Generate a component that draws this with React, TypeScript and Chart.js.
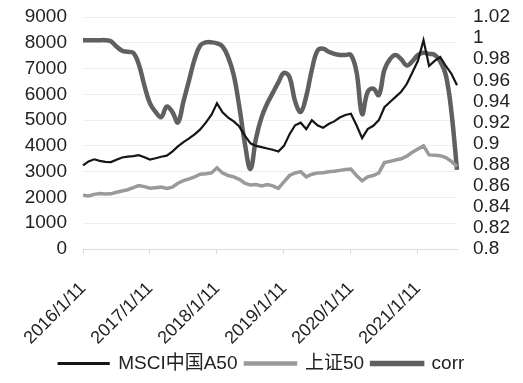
import { useEffect, useRef } from "react";
import { Chart, registerables } from "chart.js";
Chart.register(...registerables);

const FONT = "'Liberation Sans', 'Noto Sans CJK SC', Arial, sans-serif";

// monthly categories 2016/1/11 .. 2021/8/11
const categories: string[] = [];
for (let i = 0; i < 68; i++) {
  categories.push(`${2016 + Math.floor(i / 12)}/${(i % 12) + 1}/11`);
}

const msciA50 = [
  3240, 3400, 3480, 3420, 3380, 3370, 3460, 3550, 3580, 3600, 3640, 3560,
  3470, 3520, 3580, 3620, 3780, 3980, 4150, 4290, 4450, 4640, 4900, 5200,
  5650, 5300, 5100, 4950, 4750, 4400, 4100, 4000, 3950, 3900, 3850, 3780,
  4000, 4450, 4800, 4900, 4650, 5000, 4800, 4700, 4850, 4950, 5100, 5200,
  5250, 4800, 4300, 4650, 4780, 5000, 5500, 5700, 5900, 6100, 6400, 6850,
  7300, 8100, 7100, 7300, 7450, 7100, 6800, 6350,
];

const sz50 = [
  2090, 2060, 2120, 2150, 2130, 2140, 2200, 2250, 2300, 2380, 2460, 2420,
  2360, 2380, 2400, 2350, 2400, 2550, 2650, 2720, 2800, 2900, 2920, 2950,
  3150, 2950, 2850, 2800, 2700, 2550, 2480, 2500, 2450, 2500, 2450, 2350,
  2600, 2850, 2950, 3000, 2800, 2900, 2950, 2960, 3000, 3020, 3050, 3080,
  3100, 2850, 2650, 2800, 2850, 2950, 3350, 3400, 3450, 3500, 3600, 3750,
  3880, 4000, 3650, 3640, 3620, 3550, 3400, 3200,
];

const corr = [
  0.998, 0.998, 0.998, 0.998, 0.998, 0.997, 0.992, 0.988, 0.987, 0.986, 0.975, 0.955,
  0.938, 0.93, 0.925, 0.935, 0.93, 0.92, 0.94, 0.96, 0.98, 0.993, 0.996, 0.996,
  0.995, 0.992, 0.982, 0.965, 0.935, 0.9, 0.876, 0.905, 0.925, 0.938, 0.948, 0.958,
  0.967, 0.963, 0.94, 0.93, 0.945, 0.97, 0.988, 0.99, 0.987, 0.985, 0.984, 0.984,
  0.984, 0.968, 0.928, 0.949, 0.952, 0.946, 0.97, 0.98, 0.984, 0.98, 0.974, 0.978,
  0.984, 0.986, 0.985, 0.984, 0.978, 0.965, 0.93, 0.875,
];

const leftTicks = [0, 1000, 2000, 3000, 4000, 5000, 6000, 7000, 8000, 9000];
const rightTicks = [0.8, 0.82, 0.84, 0.86, 0.88, 0.9, 0.92, 0.94, 0.96, 0.98, 1, 1.02];

export default function App() {
  const ref = useRef<HTMLCanvasElement | null>(null);
  useEffect(() => {
    if (!ref.current) return;
    const chart = new Chart(ref.current, {
      type: "line",
      data: {
        labels: categories,
        datasets: [
          {
            label: "MSCI中国A50",
            data: msciA50,
            yAxisID: "y",
            borderColor: "#151515",
            backgroundColor: "#151515",
            borderWidth: 2.2,
            pointRadius: 0,
            tension: 0,
          },
          {
            label: "上证50",
            data: sz50,
            yAxisID: "y",
            borderColor: "#9a9a9a",
            backgroundColor: "#9a9a9a",
            borderWidth: 3.5,
            pointRadius: 0,
            tension: 0,
          },
          {
            label: "corr",
            data: corr,
            yAxisID: "y1",
            borderColor: "#606060",
            backgroundColor: "#606060",
            borderWidth: 4.5,
            pointRadius: 0,
            tension: 0.4,
          },
        ],
      },
      options: {
        responsive: false,
        animation: false,
        layout: { padding: { top: 17, left: 0, right: 0, bottom: 0 } },
        plugins: {
          legend: {
            position: "bottom",
            labels: {
              boxWidth: 50,
              boxHeight: 1,
              color: "#222",
              font: { family: FONT, size: 19 },
              padding: 8,
            },
          },
          tooltip: { enabled: false },
        },
        scales: {
          x: {
            type: "category",
            afterFit: (s: any) => {
              s.height = 97;
            },
            ticks: {
              autoSkip: false,
              minRotation: 45,
              maxRotation: 45,
              padding: 24,
              color: "#222",
              font: { family: FONT, size: 18 },
              callback: (_v: any, i: number) => (i % 12 === 0 ? categories[i] : ""),
            },
            grid: {
              drawOnChartArea: false,
              drawTicks: true,
              tickLength: 5,
              color: (ctx: any) => (ctx.index % 12 === 0 ? "#dcdcdc" : "rgba(0,0,0,0)"),
            },
            border: { display: true, color: "#dcdcdc" },
          },
          y: {
            position: "left",
            min: 0,
            max: 9000,
            afterFit: (s: any) => {
              s.width = 83;
              s.paddingTop = 0;
              s.paddingBottom = 0;
            },
            afterBuildTicks: (s: any) => {
              s.ticks = leftTicks.map((v) => ({ value: v }));
            },
            ticks: {
              autoSkip: false,
              padding: 16,
              color: "#222",
              font: { family: FONT, size: 19 },
              callback: (v: any) => String(v),
            },
            grid: { color: "#efefef", drawTicks: false },
            border: { display: false },
          },
          y1: {
            position: "right",
            min: 0.8,
            max: 1.02,
            afterFit: (s: any) => {
              s.width = 66;
              s.paddingTop = 0;
              s.paddingBottom = 0;
            },
            afterBuildTicks: (s: any) => {
              s.ticks = rightTicks.map((v) => ({ value: v }));
            },
            ticks: {
              autoSkip: false,
              padding: 16,
              color: "#222",
              font: { family: FONT, size: 19 },
              callback: (v: any) => String(Number(Number(v).toFixed(2))),
            },
            grid: { drawOnChartArea: false, drawTicks: false },
            border: { display: false },
          },
        },
      },
    });
    return () => chart.destroy();
  }, []);
  return (
    <div style={{ position: "fixed", left: 0, top: 0, width: 523, height: 383, background: "#fff" }}>
      <canvas ref={ref} width={523} height={383} style={{ width: 523, height: 383 }} />
    </div>
  );
}
